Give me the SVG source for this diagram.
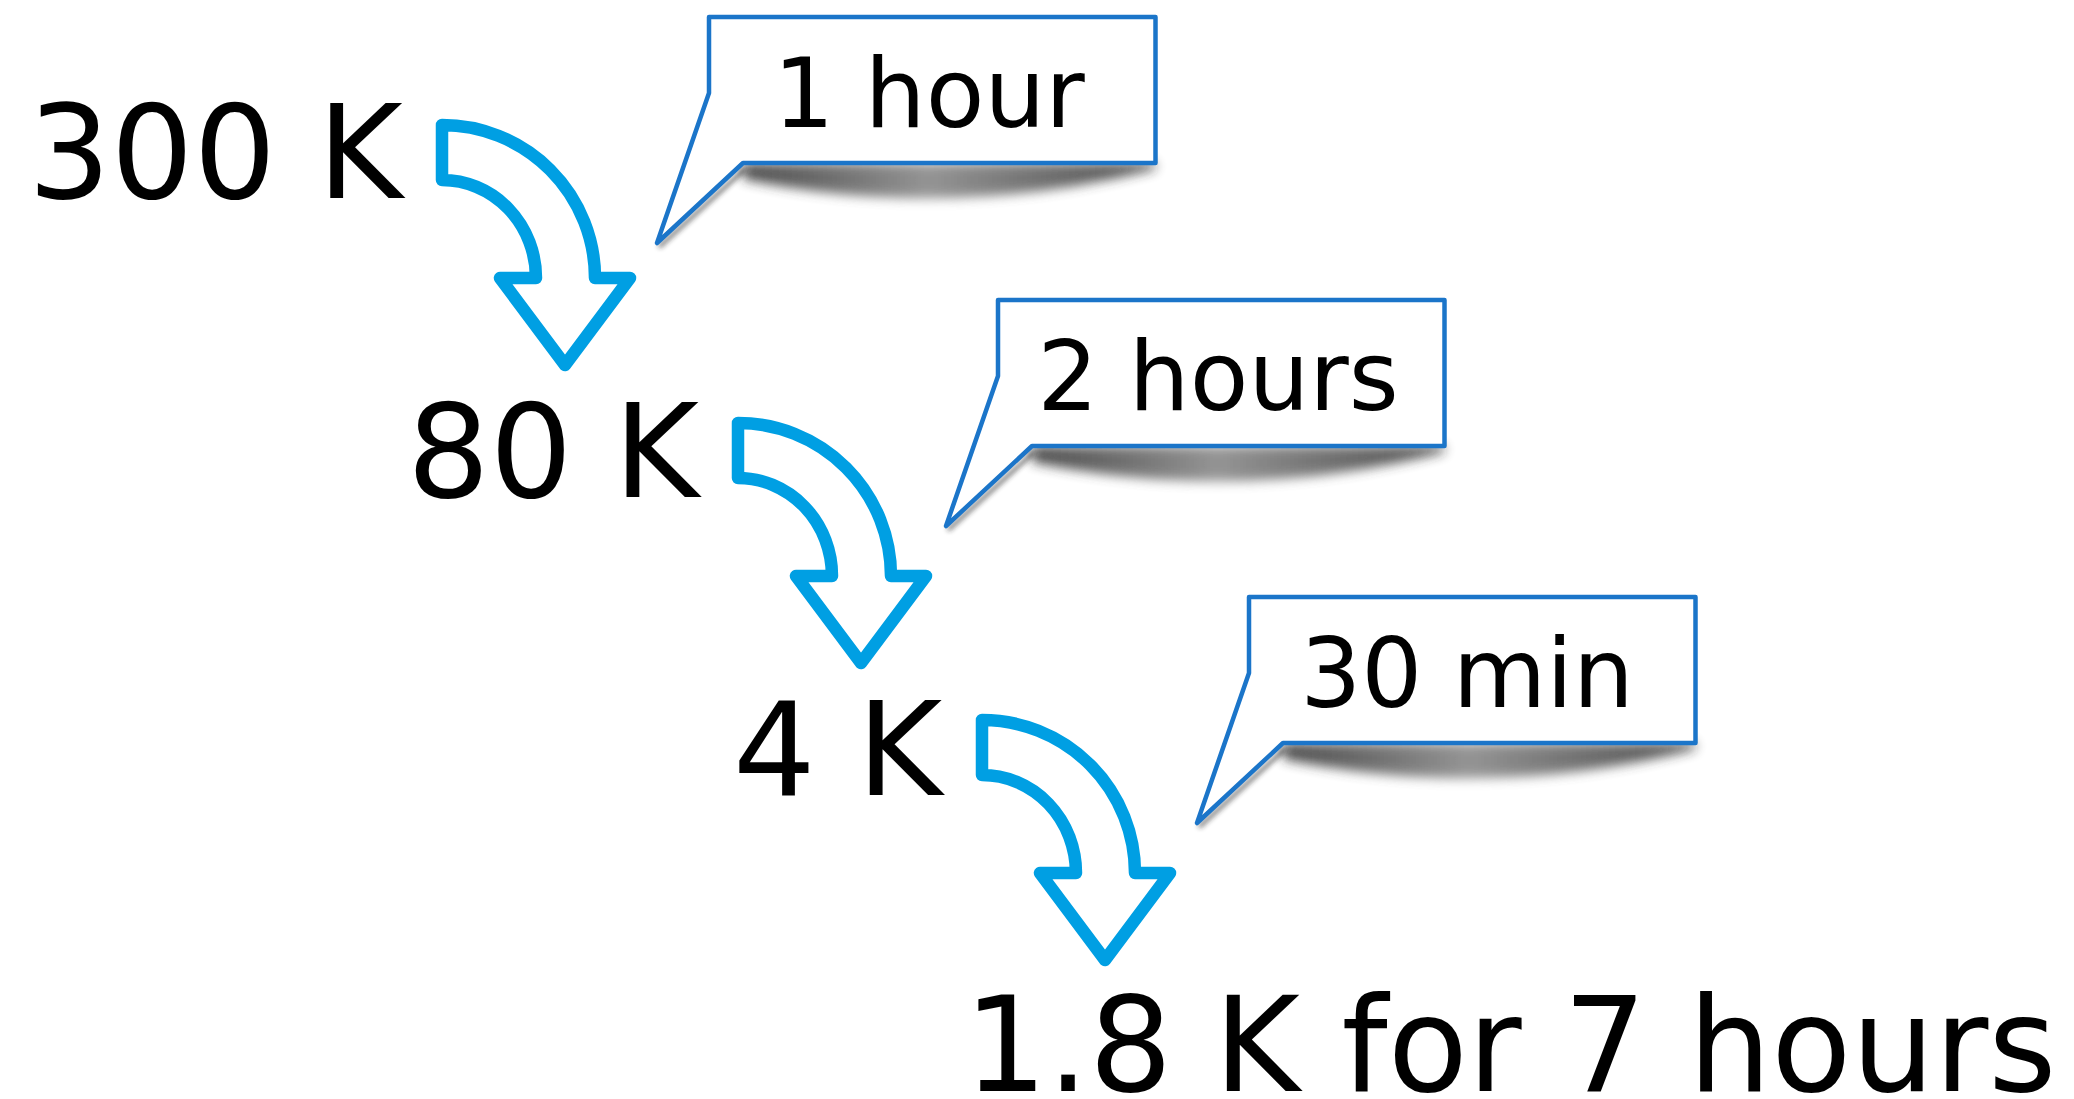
<svg xmlns="http://www.w3.org/2000/svg" width="2074" height="1099" viewBox="0 0 2074 1099">
  <style>
    .lbl { font-family: "DejaVu Sans", Verdana, sans-serif; font-size: 130px; fill: #000; }
    .ctext { font-family: "DejaVu Sans", Verdana, sans-serif; font-size: 96px; fill: #000; text-anchor: middle; }
    .arrow { fill: none; stroke: #009FE3; stroke-width: 12.5; stroke-linejoin: round; }
    .callout { fill: #fff; stroke: #1B75C9; stroke-width: 4.5; stroke-linejoin: round; }
  </style>
  <defs>
    <filter id="blur" x="-20%" y="-50%" width="140%" height="200%">
      <feGaussianBlur stdDeviation="6"/>
    </filter>
    <filter id="blur2" x="-20%" y="-20%" width="140%" height="140%">
      <feGaussianBlur stdDeviation="2.5"/>
    </filter>
    <linearGradient id="shadeGrad" x1="0" y1="0" x2="1" y2="0">
      <stop offset="0" stop-color="#222"/>
      <stop offset="0.45" stop-color="#7a7a7a"/>
      <stop offset="1" stop-color="#222"/>
    </linearGradient>
    <path id="arrowShape" d="M0,0 A153,153 0 0 1 153,153 L188,153 L123,240 L58,153 L94,153 A94,98 0 0 0 0,55 Z"/>
    <g id="calloutShape">
      <path d="M34,146 H446 L446,152 Q240,205 34,162 Z" fill="url(#shadeGrad)" opacity="0.8" filter="url(#blur)"/>
      <path d="M-50,230 L36,152" fill="none" stroke="#222" stroke-width="4" opacity="0.6" filter="url(#blur2)"/>
      <path d="M-2,4 L-2,76" fill="none" stroke="#444" stroke-width="3" opacity="0.35" filter="url(#blur2)"/>
      <path class="callout" d="M0,0 H446.5 V146 H34 L-52,226 L0,76 Z"/>
    </g>
  </defs>

  <g id="connectors">
    <use href="#arrowShape" class="arrow" transform="translate(442,125)"/>
    <use href="#arrowShape" class="arrow" transform="translate(738,423)"/>
    <use href="#arrowShape" class="arrow" transform="translate(982,720)"/>
  </g>

  <g id="node-300K">
    <text class="lbl" x="28" y="197.5">300 K</text>
  </g>
  <g id="node-80K">
    <text class="lbl" x="407" y="497">80 K</text>
  </g>
  <g id="node-4K">
    <text class="lbl" x="733" y="795">4 K</text>
  </g>
  <g id="node-1.8K">
    <text class="lbl" x="964" y="1091" style="font-size:131px">1.8 K for 7 hours</text>
  </g>

  <g id="callout-1hour" transform="translate(709,17)">
    <use href="#calloutShape"/>
    <text class="ctext" x="220" y="110">1 hour</text>
  </g>
  <g id="callout-2hours" transform="translate(998,300)">
    <use href="#calloutShape"/>
    <text class="ctext" x="220" y="110">2 hours</text>
  </g>
  <g id="callout-30min" transform="translate(1249,597)">
    <use href="#calloutShape"/>
    <text class="ctext" x="218" y="110">30 min</text>
  </g>
</svg>
